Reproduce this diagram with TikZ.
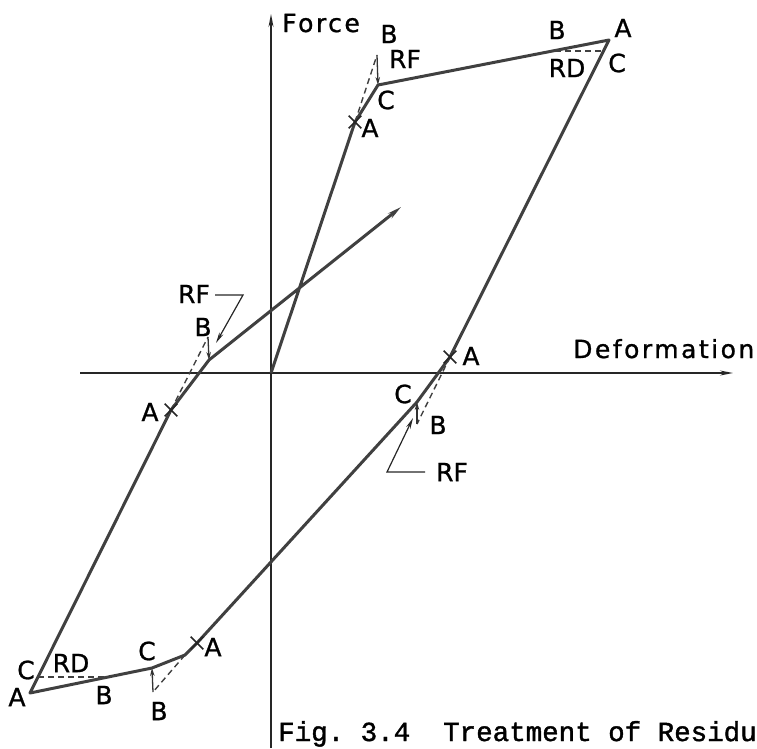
\documentclass[tikz,border=0pt]{standalone}
\usepackage{fontspec}
\usepackage{tikz}
\usetikzlibrary{arrows.meta,shapes.misc}
\newfontfamily\lettering[FakeBold=1]{DejaVu Sans}
\newfontfamily\letteringwide[LetterSpace=10,FakeBold=1]{DejaVu Sans}
\newfontfamily\typewriter[FakeBold=1.5]{Liberation Mono}
\frenchspacing

\begin{document}
\begin{tikzpicture}[x=1pt,y=-1pt,
 axis/.style={draw=black!85,line width=1.6pt,-{Stealth[length=13pt,width=5pt]}},
 branch/.style={draw=black!75,line width=3pt,line join=round},
 aux/.style={draw=black!75,line width=1.4pt,dash pattern=on 6pt off 4pt},
 rf/.style={draw=black!80,line width=1.3pt,-{Stealth[length=8pt,width=4.5pt]}},
 leader/.style={draw=black!85,line width=1.2pt,-{Stealth[length=11pt,width=4.5pt]}},
 xmark/.style={draw=black!85,cross out,line width=1.6pt,minimum size=11pt,inner sep=0pt},
 lbl/.style={font=\lettering\fontsize{25}{25}\selectfont,inner sep=0pt},
 axlbl/.style={font=\letteringwide\fontsize{25}{25}\selectfont,inner sep=0pt,anchor=base west}]
\useasboundingbox (0,0) rectangle (757,748);

% axes
\coordinate (o) at (271,373);
\coordinate (ytop) at (271,14);
\coordinate (ybot) at (271,748);
\coordinate (xleft) at (80,373);
\coordinate (xright) at (733,373);
\draw[axis] (ybot) -- (ytop);
\draw[axis] (xleft) -- (xright);
\node[axlbl] (force) at (282,32) {Force};
\node[axlbl] (deform) at (573,358) {Deformation};

% points of the loop
\coordinate (a1) at (355,122);
\coordinate (b1) at (377,55);
\coordinate (c1) at (378,85);
\coordinate (a2) at (609,40);
\coordinate (b2) at (555,51);
\coordinate (c2) at (604,51);
\coordinate (a3) at (450,357);
\coordinate (b3) at (417,424);
\coordinate (c3) at (417,402);
\coordinate (a4) at (197,643);
\coordinate (k4) at (185,655);
\coordinate (b4) at (153,692);
\coordinate (c4) at (152,668);
\coordinate (a5) at (30,693);
\coordinate (b5) at (108,677);
\coordinate (c5) at (38,677);
\coordinate (a6) at (171,410);
\coordinate (b6) at (208,337);
\coordinate (c6) at (209,360);
\coordinate (e) at (401,207);

\draw[branch,-{Stealth[length=14pt,width=6pt]}] (o) -- (a1) -- (c1) -- (a2) -- (a3) -- (c3)
  -- (a4) -- (k4) -- (c4) -- (a5) -- (a6) -- (c6) -- (e);

% elastic trial and corrections
\draw[aux] (a1) -- (b1);
\draw[aux] (b2) -- (c2);
\draw[aux] (a3) -- (b3);
\draw[aux] (k4) -- (b4);
\draw[aux] (c5) -- (b5);
\draw[aux] (a6) -- (b6);
\draw[rf] (b1) -- (c1);
\draw[rf] (b3) -- (c3);
\draw[rf] (b4) -- (c4);
\draw[rf] (b6) -- (c6);

\foreach \p in {a1,a3,a4,a6}
  \node[xmark] (x\p) at (\p) {};

% labels
\node[lbl] (lb1) at (389,34) {B};
\node[lbl] (lrf1) at (405,59) {RF};
\node[lbl] (lc1) at (386,100) {C};
\node[lbl] (la1) at (370,128) {A};
\node[lbl] (lb2) at (557,30) {B};
\node[lbl] (la2) at (623,28) {A};
\node[lbl] (lrd2) at (567,68) {RD};
\node[lbl] (lc2) at (617,63) {C};
\node[lbl] (la3) at (471,356) {A};
\node[lbl] (lc3) at (403,394) {C};
\node[lbl] (lb3) at (438,425) {B};
\node[lbl] (lrf3) at (452,472) {RF};
\node[lbl] (la4) at (213,647) {A};
\node[lbl] (lc4) at (147,651) {C};
\node[lbl] (lb4) at (159,711) {B};
\node[lbl] (lc5) at (26,670) {C};
\node[lbl] (la5) at (17,697) {A};
\node[lbl] (lrd5) at (71,663) {RD};
\node[lbl] (lb5) at (104,695) {B};
\node[lbl] (la6) at (150,412) {A};
\node[lbl] (lb6) at (203,327) {B};
\node[lbl] (lrf6) at (194,294) {RF};

% leaders
\coordinate (l6a) at (215,295);
\coordinate (l6b) at (243,295);
\coordinate (l6c) at (216,343);
\draw[leader] (l6a) -- (l6b) -- (l6c);
\coordinate (l3a) at (425,472);
\coordinate (l3b) at (387,472);
\coordinate (l3c) at (413,418);
\draw[leader] (l3a) -- (l3b) -- (l3c);

\node[font=\typewriter\fontsize{27.5}{30}\selectfont,anchor=base west,inner sep=0pt]
  (caption) at (278,741) {Fig. 3.4\ \ Treatment of Residu};
\end{tikzpicture}
\end{document}
